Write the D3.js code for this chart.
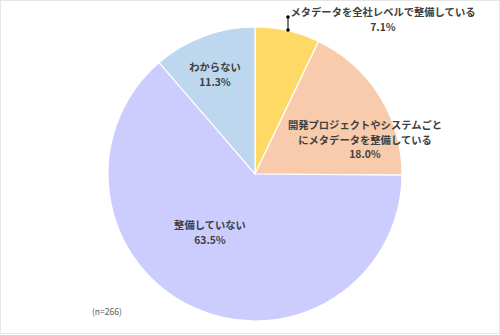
<!DOCTYPE html>
<html>
<head>
<meta charset="utf-8">
<script src="https://cdn.jsdelivr.net/npm/d3@7"></script>
<style>
  body { margin: 0; background: #fff; }
  svg { display: block; }
  text { font-family: "Noto Sans CJK JP", "Noto Sans", sans-serif; }
</style>
</head>
<body>
<svg id="chart" width="500" height="335"></svg>
<script>
var categories = ["メタデータを全社レベルで整備している", "開発プロジェクトやシステムごとにメタデータを整備している", "整備していない", "わからない"];
var values = [7.1, 18.0, 63.5, 11.3];
var colors = ["#FFD966", "#F8CBAD", "#CCCCFF", "#BDD7EE"];
// label lines per slice (text broken as in the picture)
var labelLines = [
    ["メタデータを全社レベルで整備している", "7.1%"],
    ["開発プロジェクトやシステムごと", "にメタデータを整備している", "18.0%"],
    ["整備していない", "63.5%"],
    ["わからない", "11.3%"]
];
var labelPos = [[383, 16], [365, 129], [210, 229], [215, 71]];

let svg = d3.select("#chart");
let cx = 255, cy = 174, radius = 147;

svg.append("rect")
    .attr("x", 0.5).attr("y", 0.5)
    .attr("width", 499).attr("height", 333)
    .attr("fill", "#fff")
    .attr("stroke", "#e6e6e6");

let pie = d3.pie().sort(null).value(d => d);
let arc = d3.arc().innerRadius(0).outerRadius(radius);

let g = svg.append("g").attr("transform", "translate(" + cx + "," + cy + ")");

g.selectAll("path")
    .data(pie(values))
    .enter().append("path")
    .attr("d", arc)
    .attr("fill", (d, i) => colors[i])
    .attr("stroke", "#fff")
    .attr("stroke-width", 1.2);

// leader line for the small slice
let lead = svg.append("g");
lead.append("line")
    .attr("x1", 288).attr("y1", 30)
    .attr("x2", 288).attr("y2", 17)
    .attr("stroke", "#000").attr("stroke-width", 1);
lead.selectAll("circle")
    .data([17, 30])
    .enter().append("circle")
    .attr("cx", 288).attr("cy", d => d)
    .attr("r", 1.8).attr("fill", "#000");

let labels = svg.append("g");
labelLines.forEach((lines, i) => {
    let t = labels.append("text")
        .attr("x", labelPos[i][0])
        .attr("y", labelPos[i][1])
        .attr("text-anchor", "middle")
        .attr("font-size", 10.3)
        .attr("font-weight", "bold")
        .attr("fill", "#404040");
    lines.forEach((l, j) => {
        t.append("tspan")
            .attr("x", labelPos[i][0])
            .attr("dy", j == 0 ? 0 : 14.5)
            .text(l);
    });
});

svg.append("text")
    .attr("x", 92).attr("y", 315)
    .attr("font-size", 8.5)
    .attr("fill", "#595959")
    .text("(n=266)");
</script>
</body>
</html>
